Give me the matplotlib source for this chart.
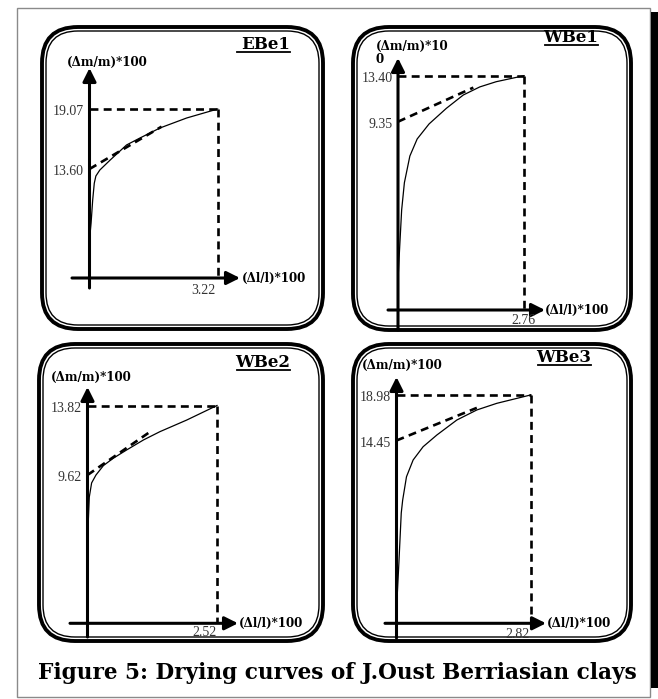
import numpy as np
import matplotlib
matplotlib.use("Agg")
import matplotlib.pyplot as plt
from matplotlib.patches import FancyBboxPatch, Rectangle

plt.rcParams['font.family'] = ['Liberation Serif', 'DejaVu Serif']
BOLD = ['DejaVu Serif', 'Liberation Serif']

# ---- data (curve in panel units) ----
names = ["EBe1", "WBe1", "WBe2", "WBe3"]
ylabels = ["(\u0394m/m)*100", "(\u0394m/m)*10\n0", "(\u0394m/m)*100", "(\u0394m/m)*100"]
x_end = [3.22, 2.76, 2.52, 2.82]
y_top = [19.07, 13.40, 13.82, 18.98]
y_int = [13.60, 9.35, 9.62, 14.45]
ebe1_x = [0.0, 0.04, 0.08, 0.12, 0.16, 0.26, 0.52, 0.93, 1.27, 1.77, 2.44, 3.22]
ebe1_y = [7.13, 8.68, 10.77, 12.30, 12.96, 13.51, 14.42, 15.79, 16.43, 17.34, 18.25, 19.07]
wbe1_x = [0.0, 0.03, 0.08, 0.14, 0.26, 0.42, 0.68, 1.06, 1.43, 1.79, 2.15, 2.76]
wbe1_y = [-4.6, -2.21, 1.58, 3.98, 6.33, 7.83, 9.15, 10.53, 11.70, 12.41, 12.87, 13.40]
wbe2_x = [0.0, 0.035, 0.08, 0.165, 0.31, 0.50, 0.76, 1.09, 1.41, 1.93, 2.52]
wbe2_y = [5.69, 8.29, 9.14, 9.62, 10.19, 10.63, 11.13, 11.74, 12.24, 12.94, 13.82]
wbe3_x = [0.0, 0.05, 0.10, 0.13, 0.21, 0.35, 0.56, 0.85, 1.27, 1.69, 2.11, 2.82]
wbe3_y = [-2.4, 2.25, 7.23, 8.52, 10.84, 12.51, 13.83, 15.00, 16.49, 17.49, 18.15, 18.98]
curves_x = [ebe1_x, wbe1_x, wbe2_x, wbe3_x]
curves_y = [ebe1_y, wbe1_y, wbe2_y, wbe3_y]
# end point of the dashed tangent
tan_x = [1.81, 1.65, 1.25, 1.69]
tan_y = [17.46, 12.35, 12.30, 17.70]

# ---- layout in pixels (figure is 658 x 699) ----
W, H = 658, 699
# y-axis x, x_end x, y_top y, y_int y
anchors = [(89.5, 217.7, 109, 169), (398, 524, 75.7, 121.7),
           (87.5, 217, 405.5, 475), (396.5, 530.5, 395, 440.5)]
boxes = [(40, 25, 325, 331), (351, 25, 633, 332), (37, 342, 325, 643), (351, 342, 633, 643)]
# x-axis: y, x start, x tip ; y-axis: bottom, tip
xaxis = [(278, 72, 240), (310, 388, 545), (623.3, 70, 238), (623.3, 385, 546)]
yaxis = [(288, 68), (330, 58), (637, 387), (638, 377)]
ylab_pos = [(67, 62), (376, 53), (51, 377), (362, 365)]
xlab_pos = [(242, 278), (545, 310), (239, 623), (547, 623)]
title_pos = [(290, 49), (598, 42), (290, 367), (591, 362)]
xtick_pos = [(215, 290), (536, 321), (217, 632), (530, 635)]

fig = plt.figure(figsize=(W / 100, H / 100), dpi=100)
bg = fig.add_axes([0, 0, 1, 1])
bg.set_xlim(0, W)
bg.set_ylim(H, 0)
bg.axis('off')

# outer frame and shadow
bg.add_patch(Rectangle((17, 8), 633, 689, fill=False, ec='#8a8a8a', lw=1))
bg.add_patch(Rectangle((651, 12), 8, 676, fc='black', ec='none'))

for i in range(4):
    x0, y0, x1, y1 = boxes[i]
    bg.add_patch(FancyBboxPatch((x0 + 2, y0 + 2), x1 - x0 - 4, y1 - y0 - 4,
                                boxstyle="round,pad=0,rounding_size=36",
                                fill=False, ec='black', lw=2.8))
    bg.add_patch(FancyBboxPatch((x0 + 6, y0 + 6), x1 - x0 - 12, y1 - y0 - 12,
                                boxstyle="round,pad=0,rounding_size=32",
                                fill=False, ec='black', lw=1.0))

    # axes arrows
    ya, xs, xt = xaxis[i]
    yb, yt = yaxis[i]
    px0 = anchors[i][0]
    bg.annotate('', xy=(xt, ya), xytext=(xs, ya),
                arrowprops=dict(arrowstyle='-|>', lw=2.2, color='black',
                                mutation_scale=20, shrinkA=0, shrinkB=0))
    bg.annotate('', xy=(px0, yt), xytext=(px0, yb),
                arrowprops=dict(arrowstyle='-|>', lw=2.2, color='black',
                                mutation_scale=20, shrinkA=0, shrinkB=0))

    # labels
    bg.text(*ylab_pos[i], ylabels[i], fontsize=8.6, fontweight='bold', family=BOLD,
            ha='left', va='center', linespacing=0.95)
    bg.text(*xlab_pos[i], "(\u0394l/l)*100", fontsize=8.6, fontweight='bold', family=BOLD,
            ha='left', va='center')
    tx, ty = title_pos[i]
    bg.text(tx, ty, names[i], fontsize=12, fontweight='bold', family=BOLD,
            ha='right', va='baseline')
    bg.plot([tx - 53, tx], [ty + 3, ty + 3], color='black', lw=1.3)

    # panel data axes, scaled so data units land on the pixels above
    px1, py_top, py_int = anchors[i][1], anchors[i][2], anchors[i][3]
    sx = (px1 - px0) / x_end[i]
    sy = (py_int - py_top) / (y_top[i] - y_int[i])
    ax = fig.add_axes([0, 0, 1, 1])
    ax.set_xlim(-px0 / sx, (W - px0) / sx)
    ax.set_ylim(y_top[i] - (H - py_top) / sy, y_top[i] + py_top / sy)
    ax.axis('off')
    ax.patch.set_alpha(0)
    y_base = y_top[i] - (ya - py_top) / sy

    dash = dict(color='black', lw=1.9, ls=(0, (3, 2)))
    ax.plot([0, x_end[i]], [y_top[i], y_top[i]], **dash)
    ax.plot([x_end[i], x_end[i]], [y_top[i], y_base], **dash)
    ax.plot([0, tan_x[i]], [y_int[i], tan_y[i]], **dash)
    ax.plot(curves_x[i], curves_y[i], color='black', lw=0.9)

    # value labels
    for v in (y_top[i], y_int[i]):
        ax.annotate(f"{v:.2f}", (0, v), xytext=(-4, -2),
                    textcoords='offset points', ha='right', va='center',
                    fontsize=10, color='#333333')
    bg.text(*xtick_pos[i], f"{x_end[i]:.2f}", fontsize=10, color='#333333',
            ha='right', va='center')

bg.text(337, 679, "Figure 5: Drying curves of J.Oust Berriasian clays",
        fontsize=15.6, fontweight='bold', family=BOLD, ha='center', va='baseline')

fig.savefig("out.png", dpi=100)
